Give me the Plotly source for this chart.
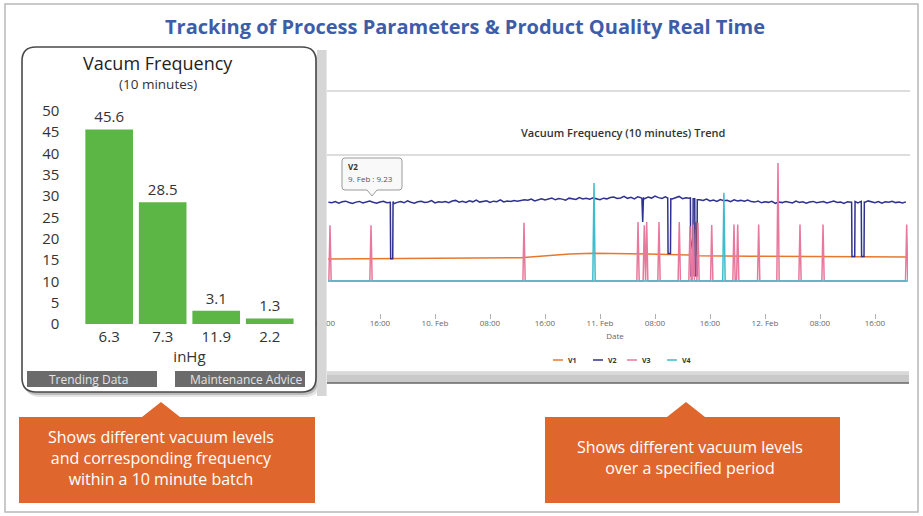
import plotly.graph_objects as go

W, H = 923, 516

# ---------------- data ----------------
page_title = "Tracking of Process Parameters & Product Quality Real Time"

bar_title = "Vacum Frequency"
bar_subtitle = "(10 minutes)"
vacuum_levels = ["6.3", "7.3", "11.9", "2.2"]
frequency = [45.6, 28.5, 3.1, 1.3]
bar_unit = "inHg"
bar_yticks = [0, 5, 10, 15, 20, 25, 30, 35, 40, 45, 50]
button_labels = ["Trending Data", "Maintenance Advice"]

trend_title = "Vacuum Frequency (10 minutes) Trend"
trend_axis_title = "Date"
# hours counted from 9 Feb 00:00
trend_tickvals = [8, 16, 24, 32, 40, 48, 56, 64, 72, 80, 88]
trend_ticktext = ["08:00", "16:00", "10. Feb", "08:00", "16:00", "11. Feb",
                  "08:00", "16:00", "12. Feb", "08:00", "16:00"]
series_names = ["V1", "V2", "V3", "V4"]

v1_t = [8.44, 20.0, 30.0, 36.4, 43.6, 47.0, 55.0, 61.0, 61.96, 62.1, 70.0, 80.0, 92.8]
v1_v = [2.57, 2.6, 2.62, 2.72, 3.15, 3.24, 3.15, 3.05, 6.9, 2.95, 2.9, 2.85, 2.8]

v2_start = 8.5
v2_step = 0.5
v2_level = [
    9.20, 9.15, 9.28, 9.10, 9.25, 9.33, 9.18, 9.05, 9.22, 9.30, 9.12, 9.26,
    9.35, 9.20, 9.08, 9.24, 9.31, 9.15, 9.27, 9.02, 9.19, 9.29, 9.14, 9.36,
    9.21, 9.09, 9.25, 9.32, 9.17, 9.23, 9.40, 9.13, 9.26, 9.20,
    9.28, 9.15, 9.34, 9.42, 9.20, 9.31, 9.18, 9.37, 9.25, 9.45, 9.22, 9.30,
    9.38, 9.19, 9.33, 9.27, 9.48, 9.24, 9.35, 9.29, 9.41, 9.32,
    9.38, 9.50, 9.44, 9.58, 9.36, 9.52, 9.61, 9.47, 9.55, 9.70, 9.49, 9.63,
    9.57, 9.45, 9.68, 9.60, 9.52, 9.74, 9.58, 9.66, 9.55, 9.71, 9.62, 9.50,
    9.68, 9.60, 9.75, 9.82, 9.64, 9.71, 9.90, 9.66, 9.78, 9.59, 9.85, 9.72,
    9.63, 9.80, 9.69, 9.93, 9.74, 9.65, 9.83, 9.70, 9.58, 9.77, 9.88, 9.62,
    9.73, 9.67, 9.79, 9.55,
    9.50, 9.41, 9.58, 9.35, 9.46, 9.30, 9.52, 9.38, 9.44, 9.27, 9.49, 9.36,
    9.42, 9.31, 9.45, 9.28,
    9.22, 9.35, 9.14, 9.27, 9.19, 9.31, 9.08, 9.24, 9.16, 9.29, 9.21, 9.12,
    9.33, 9.18, 9.26, 9.10, 9.23, 9.30, 9.15, 9.20, 9.28, 9.11, 9.25, 9.34,
    9.17, 9.22, 9.06, 9.27, 9.19, 9.32, 9.13, 9.24, 9.18, 9.36, 9.21, 9.15,
    9.29, 9.09, 9.26, 9.20, 9.31, 9.16, 9.23, 9.12, 9.25,
]
v2_dip_t = [[17.5, 17.55, 17.85, 17.9], [54.1, 54.21, 54.32],
            [57.85, 57.9, 58.25, 58.3], [61.15, 61.2, 61.5, 61.55],
            [61.78, 61.83, 62.1, 62.15], [84.6, 84.65, 85.05, 85.1],
            [86.0, 86.05, 86.4, 86.45]]
v2_dip_v = [[9.2, 2.6, 2.6, 9.3], [9.6, 6.9, 9.7],
            [9.7, 3.2, 3.2, 9.6], [9.7, 0.6, 0.6, 9.6],
            [9.6, 0.6, 0.6, 9.5], [9.2, 2.85, 2.85, 9.3],
            [9.3, 2.85, 2.85, 9.2]]

v3_t = [8.44,
        8.56, 8.73, 8.90,
        14.52, 14.69, 14.86,
        36.78, 36.95, 37.12,
        53.36, 53.53, 53.70,
        54.27, 54.44, 54.60,
        54.63, 54.79, 54.96,
        56.41, 56.58, 56.75,
        59.36, 59.53, 59.70,
        60.92, 61.09, 61.26,
        61.40, 61.57, 61.74,
        62.08, 62.25, 62.42,
        64.08, 64.25, 64.42,
        67.32, 67.49, 67.66,
        67.86, 68.03, 68.20,
        70.91, 71.08, 71.25,
        73.72, 73.89, 74.06,
        76.92, 77.09, 77.26,
        80.27, 80.44, 80.61,
        92.44, 92.61, 92.78,
        92.80]
v3_v = [0,
        0, 6.5, 0,
        0, 6.5, 0,
        0, 6.8, 0,
        0, 6.9, 0,
        0, 6.5, 0,
        0, 6.9, 0,
        0, 6.9, 0,
        0, 6.9, 0,
        0, 6.4, 0,
        0, 6.6, 0,
        0, 6.8, 0,
        0, 6.55, 0,
        0, 6.6, 0,
        0, 6.6, 0,
        0, 6.6, 0,
        0, 13.8, 0,
        0, 6.6, 0,
        0, 6.6, 0,
        0, 6.6, 0,
        0]

v4_t = [8.44, 46.95, 47.13, 47.3, 65.85, 66.02, 66.2, 92.8]
v4_v = [0, 0, 11.45, 0, 0, 10.3, 0, 0]

tooltip_series = "V2"
tooltip_text = "9. Feb : 9.23"

callout_left = ["Shows different vacuum levels", "and corresponding frequency",
                "within a 10 minute batch"]
callout_right = ["Shows different vacuum levels", "over a specified period"]

# ---------------- styles ----------------
FONT = "Open Sans"
GREEN = "#5cb646"
ORANGE_BOX = "#df672d"
colors = {"V1": "#e8772e", "V2": "#2f318f", "V3": "#e8789c", "V4": "#3dbccd"}


def X(px):
    return px / W


def Y(py):
    return 1 - py / H


def p(x, y):
    return f"{X(x):.5f},{Y(y):.5f}"


def rr(x0, y0, x1, y1, r):
    return (f"M {p(x0 + r, y0)} L {p(x1 - r, y0)} Q {p(x1, y0)} {p(x1, y0 + r)} "
            f"L {p(x1, y1 - r)} Q {p(x1, y1)} {p(x1 - r, y1)} L {p(x0 + r, y1)} "
            f"Q {p(x0, y1)} {p(x0, y1 - r)} L {p(x0, y0 + r)} Q {p(x0, y0)} {p(x0 + r, y0)} Z")


def callout(x0, y0, x1, y1, ax, ay, hw):
    return (f"M {p(x0, y0)} L {p(ax - hw, y0)} L {p(ax, ay)} L {p(ax + hw, y0)} "
            f"L {p(x1, y0)} L {p(x1, y1)} L {p(x0, y1)} Z")


def rect(x0, y0, x1, y1, fill, line=None, lw=0, layer="below"):
    return dict(type="rect", xref="paper", yref="paper", x0=X(x0), x1=X(x1),
                y0=Y(y1), y1=Y(y0), fillcolor=fill,
                line=dict(color=line or "rgba(0,0,0,0)", width=lw), layer=layer)


def pathshape(path, fill, line=None, lw=0, layer="below"):
    return dict(type="path", xref="paper", yref="paper", path=path, fillcolor=fill,
                line=dict(color=line or "rgba(0,0,0,0)", width=lw), layer=layer)


def hline(x0, x1, y, color, lw, layer="below"):
    return dict(type="line", xref="paper", yref="paper", x0=X(x0), x1=X(x1),
                y0=Y(y), y1=Y(y), line=dict(color=color, width=lw), layer=layer)


def ann(text, x, y, size, color, xanchor="center", weight="normal", yanchor="middle"):
    return dict(text=text, x=X(x), y=Y(y), xref="paper", yref="paper",
                showarrow=False, xanchor=xanchor, yanchor=yanchor,
                font=dict(family=FONT, size=size, color=color, weight=weight))


# ---------------- traces ----------------
fig = go.Figure()

fig.add_trace(go.Bar(
    x=vacuum_levels, y=frequency, text=[f"{v}" for v in frequency],
    textposition="outside", textfont=dict(family=FONT, size=15, color="#333"),
    marker=dict(color=GREEN, line=dict(width=0)), cliponaxis=False,
    xaxis="x", yaxis="y", showlegend=False, hoverinfo="skip"))

# build V2 table: regular samples + dip segments
v2_pts = []
windows = [(seg[0], seg[-1]) for seg in v2_dip_t]
for i, v in enumerate(v2_level):
    t = v2_start + i * v2_step
    if not any(a <= t <= b for a, b in windows):
        v2_pts.append((t, v))
for ts, vs in zip(v2_dip_t, v2_dip_v):
    v2_pts.extend(zip(ts, vs))
v2_pts.sort()
v2_t = [a for a, _ in v2_pts]
v2_v = [b for _, b in v2_pts]

series = {"V1": (v1_t, v1_v), "V2": (v2_t, v2_v), "V3": (v3_t, v3_v), "V4": (v4_t, v4_v)}
for name in series_names:
    t, v = series[name]
    fig.add_trace(go.Scatter(x=t, y=v, mode="lines", name=name,
                             line=dict(color=colors[name], width=1.5),
                             xaxis="x2", yaxis="y2", showlegend=False,
                             hoverinfo="skip"))

# ---------------- shapes ----------------
shapes = []
# outer frame
shapes.append(rect(5, 4, 918, 512, "white", "#b8b8b8", 1.5))
# left card shadow + card
shapes.append(pathshape(rr(25, 51, 320, 397, 15), "rgba(0,0,0,0.10)"))
shapes.append(pathshape(rr(23, 49, 318, 395, 15), "rgba(0,0,0,0.18)"))
shapes.append(pathshape(rr(22, 47, 316, 392, 14), "white"))
# buttons
shapes.append(rect(27, 371, 157, 387, "#6b6b6b"))
shapes.append(rect(175, 371, 305, 387, "#6b6b6b"))
# right panel header lines
shapes.append(hline(327, 910, 91, "#d2d2d2", 1.5))
shapes.append(hline(327, 910, 155, "#d2d2d2", 1.5))
# scrollbar strip
shapes.append(rect(327, 371.5, 909, 383, "#c9c9c9"))
shapes.append(rect(327, 371.5, 909, 375, "#d9d9d9"))
shapes.append(hline(327, 909, 383, "#666666", 1.5))
# orange callouts
shapes.append(pathshape(callout(19, 417, 315, 503, 161, 402, 19), ORANGE_BOX))
shapes.append(pathshape(callout(545, 417, 840, 503, 686, 402, 19), ORANGE_BOX))
# tooltip
tip = (f"M {p(345, 158)} L {p(399, 158)} Q {p(402, 158)} {p(402, 161)} L {p(402, 187)} "
       f"Q {p(402, 190)} {p(399, 190)} L {p(377, 190)} L {p(372, 196)} L {p(367, 190)} "
       f"L {p(345, 190)} Q {p(342, 190)} {p(342, 187)} L {p(342, 161)} Q {p(342, 158)} {p(345, 158)} Z")
shapes.append(pathshape(tip, "rgba(248,248,248,0.92)", "#9a9a9a", 1, layer="above"))
# covers over the clipped tick label, card edge shadow band, card outline
shapes.append(rect(309, 312, 315.5, 330, "white", layer="above"))
shapes.append(rect(317, 50, 326.6, 396, "#d6d6d6", layer="above"))
shapes.append(pathshape(rr(22, 47, 316, 392, 14), "rgba(0,0,0,0)", "#4a4a4a", 1.6, layer="above"))
# manual legend
legend_x = {"V1": 553, "V2": 593, "V3": 627, "V4": 667}
for name in series_names:
    a = legend_x[name]
    shapes.append(hline(a, a + 10, 360, colors[name], 1.5))

# ---------------- annotations ----------------
annotations = [
    ann(page_title, 465, 27, 20, "#3d5da8", weight=700),
    ann(bar_title, 158, 62.5, 18, "#222"),
    ann(bar_subtitle, 158, 83.5, 13.5, "#333"),
    ann(button_labels[0], 88, 379, 12, "#e4e4e4"),
    ann(button_labels[1], 246, 379, 12, "#e4e4e4"),
    ann(trend_title, 623, 132, 11, "#333", weight=600),
    ann(tooltip_series, 346, 166, 8, "#333", xanchor="left", weight=700),
    ann(tooltip_text, 346, 179, 8, "#555", xanchor="left"),
    ann("<br>".join(callout_left), 161, 458, 16, "white"),
    ann("<br>".join(callout_right), 690, 457, 16, "white"),
]
for name in series_names:
    annotations.append(ann(name, legend_x[name] + 13, 360, 7, "#333", xanchor="left", weight=700))

fig.update_layout(
    width=W, height=H, autosize=False,
    margin=dict(l=0, r=0, t=0, b=0, pad=0, autoexpand=False),
    paper_bgcolor="white", plot_bgcolor="rgba(0,0,0,0)",
    font=dict(family=FONT, color="#333"),
    bargap=0.11,
    shapes=shapes, annotations=annotations,
    xaxis=dict(domain=[X(82.4), X(296.5)], type="category", anchor="y", automargin=False,
               showgrid=False, zeroline=False, showline=False, ticks="",
               ticklabelstandoff=2,
               tickfont=dict(family=FONT, size=15, color="#333"),
               title=dict(text=bar_unit, font=dict(family=FONT, size=15, color="#333"), standoff=2)),
    yaxis=dict(domain=[Y(324), Y(110.6)], range=[0, 50], anchor="x", automargin=False,
               tickvals=bar_yticks, showgrid=False, zeroline=False, showline=False,
               ticks="", ticklabelstandoff=22,
               tickfont=dict(family=FONT, size=15, color="#333")),
    xaxis2=dict(domain=[X(322), X(908)], range=[7.564, 92.8], anchor="y2", automargin=False,
                tickvals=trend_tickvals, ticktext=trend_ticktext,
                ticks="outside", ticklen=5, tickcolor="#b0b0b0", tickwidth=1,
                ticklabelstandoff=-3,
                showgrid=False, zeroline=False, showline=False,
                tickfont=dict(family=FONT, size=8, color="#666"),
                title=dict(text=trend_axis_title, font=dict(family=FONT, size=8, color="#666"), standoff=6)),
    yaxis2=dict(domain=[Y(313), Y(160)], range=[-3.74, 14.14], anchor="x2", automargin=False,
                visible=False, showgrid=False, zeroline=False),
)

fig.write_html(
    "out.html",
    config={"displayModeBar": False, "staticPlot": True},
    post_script=("document.documentElement.style.margin='0';"
                 "document.body.style.margin='0';document.body.style.padding='0';"
                 "document.body.style.overflow='hidden';"),
)
